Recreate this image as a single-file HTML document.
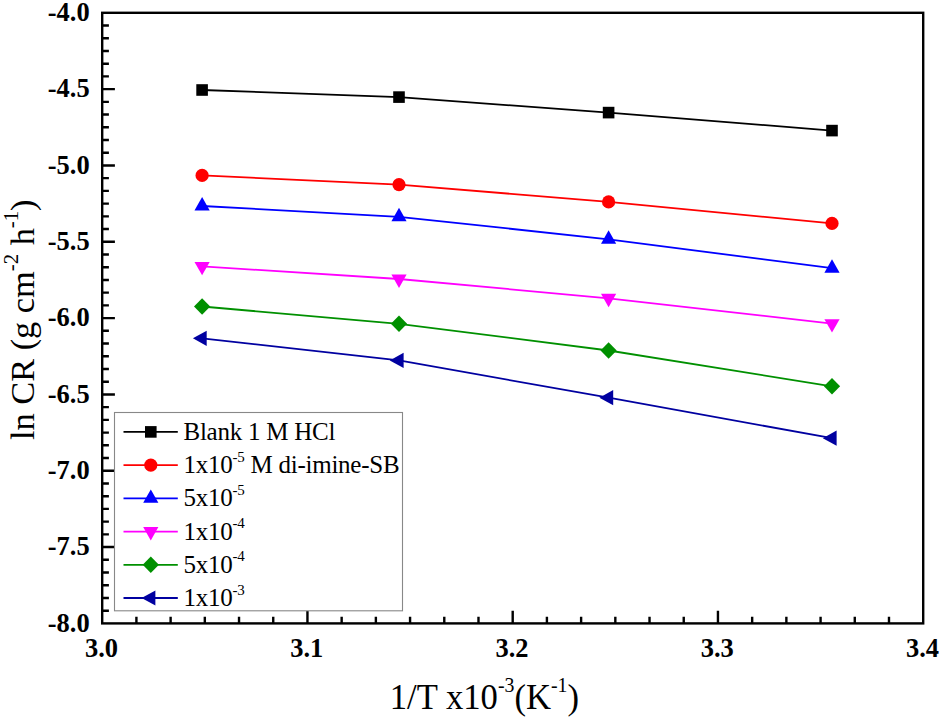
<!DOCTYPE html><html><head><meta charset="utf-8"><style>html,body{margin:0;padding:0;background:#fff;}svg{display:block;}text{font-family:"Liberation Serif",serif;}</style></head><body>
<svg width="944" height="719" viewBox="0 0 944 719">
<rect width="944" height="719" fill="#fff"/>
<path d="M102.20,25.52h6.7 M102.20,38.24h6.7 M102.20,50.96h6.7 M102.20,63.68h6.7 M102.20,76.40h6.7 M102.20,89.12h12.7 M102.20,101.85h6.7 M102.20,114.57h6.7 M102.20,127.29h6.7 M102.20,140.01h6.7 M102.20,152.73h6.7 M102.20,165.45h12.7 M102.20,178.17h6.7 M102.20,190.89h6.7 M102.20,203.61h6.7 M102.20,216.33h6.7 M102.20,229.05h6.7 M102.20,241.78h12.7 M102.20,254.50h6.7 M102.20,267.22h6.7 M102.20,279.94h6.7 M102.20,292.66h6.7 M102.20,305.38h6.7 M102.20,318.10h12.7 M102.20,330.82h6.7 M102.20,343.54h6.7 M102.20,356.26h6.7 M102.20,368.98h6.7 M102.20,381.70h6.7 M102.20,394.43h12.7 M102.20,407.15h6.7 M102.20,419.87h6.7 M102.20,432.59h6.7 M102.20,445.31h6.7 M102.20,458.03h6.7 M102.20,470.75h12.7 M102.20,483.47h6.7 M102.20,496.19h6.7 M102.20,508.91h6.7 M102.20,521.63h6.7 M102.20,534.35h6.7 M102.20,547.07h12.7 M102.20,559.80h6.7 M102.20,572.52h6.7 M102.20,585.24h6.7 M102.20,597.96h6.7 M102.20,610.68h6.7 M136.41,623.40v-6.7 M170.62,623.40v-6.7 M204.82,623.40v-6.7 M239.03,623.40v-6.7 M273.24,623.40v-6.7 M307.45,623.40v-12.7 M341.66,623.40v-6.7 M375.87,623.40v-6.7 M410.07,623.40v-6.7 M444.28,623.40v-6.7 M478.49,623.40v-6.7 M512.70,623.40v-12.7 M546.91,623.40v-6.7 M581.12,623.40v-6.7 M615.33,623.40v-6.7 M649.53,623.40v-6.7 M683.74,623.40v-6.7 M717.95,623.40v-12.7 M752.16,623.40v-6.7 M786.37,623.40v-6.7 M820.58,623.40v-6.7 M854.78,623.40v-6.7 M888.99,623.40v-6.7" stroke="#000" stroke-width="2.4" fill="none"/>
<path d="M202.10,90.00 L399.00,97.10 L608.60,112.60 L832.00,130.60" stroke="#000000" stroke-width="1.8" fill="none" stroke-linejoin="round"/>
<path d="M202.10,175.40 L399.00,184.60 L608.60,201.90 L832.00,223.40" stroke="#ff0000" stroke-width="1.8" fill="none" stroke-linejoin="round"/>
<path d="M202.10,206.00 L399.00,216.80 L608.60,239.30 L832.00,268.20" stroke="#0000ff" stroke-width="1.8" fill="none" stroke-linejoin="round"/>
<path d="M202.10,266.40 L399.00,279.00 L608.60,298.30 L832.00,323.60" stroke="#ff00ff" stroke-width="1.8" fill="none" stroke-linejoin="round"/>
<path d="M202.10,306.50 L399.00,323.80 L608.60,350.50 L832.00,386.30" stroke="#009000" stroke-width="1.8" fill="none" stroke-linejoin="round"/>
<path d="M202.10,338.30 L399.00,360.40 L608.60,397.70 L832.00,438.20" stroke="#0000a0" stroke-width="1.8" fill="none" stroke-linejoin="round"/>
<rect x="196.30" y="84.20" width="11.6" height="11.6" fill="#000000"/>
<rect x="393.20" y="91.30" width="11.6" height="11.6" fill="#000000"/>
<rect x="602.80" y="106.80" width="11.6" height="11.6" fill="#000000"/>
<rect x="826.20" y="124.80" width="11.6" height="11.6" fill="#000000"/>
<circle cx="202.10" cy="175.40" r="6.6" fill="#ff0000"/>
<circle cx="399.00" cy="184.60" r="6.6" fill="#ff0000"/>
<circle cx="608.60" cy="201.90" r="6.6" fill="#ff0000"/>
<circle cx="832.00" cy="223.40" r="6.6" fill="#ff0000"/>
<polygon points="202.10,197.07 209.70,210.47 194.50,210.47" fill="#0000ff"/>
<polygon points="399.00,207.87 406.60,221.27 391.40,221.27" fill="#0000ff"/>
<polygon points="608.60,230.37 616.20,243.77 601.00,243.77" fill="#0000ff"/>
<polygon points="832.00,259.27 839.60,272.67 824.40,272.67" fill="#0000ff"/>
<polygon points="202.10,275.33 209.70,261.93 194.50,261.93" fill="#ff00ff"/>
<polygon points="399.00,287.93 406.60,274.53 391.40,274.53" fill="#ff00ff"/>
<polygon points="608.60,307.23 616.20,293.83 601.00,293.83" fill="#ff00ff"/>
<polygon points="832.00,332.53 839.60,319.13 824.40,319.13" fill="#ff00ff"/>
<polygon points="202.10,298.20 210.20,306.50 202.10,314.80 194.00,306.50" fill="#009000"/>
<polygon points="399.00,315.50 407.10,323.80 399.00,332.10 390.90,323.80" fill="#009000"/>
<polygon points="608.60,342.20 616.70,350.50 608.60,358.80 600.50,350.50" fill="#009000"/>
<polygon points="832.00,378.00 840.10,386.30 832.00,394.60 823.90,386.30" fill="#009000"/>
<polygon points="192.90,338.30 206.70,330.70 206.70,345.90" fill="#0000a0"/>
<polygon points="389.80,360.40 403.60,352.80 403.60,368.00" fill="#0000a0"/>
<polygon points="599.40,397.70 613.20,390.10 613.20,405.30" fill="#0000a0"/>
<polygon points="822.80,438.20 836.60,430.60 836.60,445.80" fill="#0000a0"/>
<rect x="102.2" y="12.8" width="821.00" height="610.60" fill="none" stroke="#000" stroke-width="2.4"/>
<rect x="114.5" y="412.5" width="288.0" height="198.30" fill="#fff" stroke="#888" stroke-width="1.1"/>
<path d="M123.5,431.90H177.8" stroke="#000000" stroke-width="1.8"/>
<rect x="145.00" y="426.10" width="11.6" height="11.6" fill="#000000"/>
<text x="183.5" y="439.90" font-size="25" letter-spacing="-0.25">Blank 1 M HCl</text>
<path d="M123.5,465.12H177.8" stroke="#ff0000" stroke-width="1.8"/>
<circle cx="150.80" cy="465.12" r="6.6" fill="#ff0000"/>
<text x="183.5" y="473.12" font-size="25" letter-spacing="-0.25">1x10<tspan dy="-11.5" font-size="15">-5</tspan><tspan dy="11.5"> M di-imine-SB</tspan></text>
<path d="M123.5,498.34H177.8" stroke="#0000ff" stroke-width="1.8"/>
<polygon points="150.80,489.41 158.40,502.81 143.20,502.81" fill="#0000ff"/>
<text x="183.5" y="506.34" font-size="25" letter-spacing="-0.25">5x10<tspan dy="-11.5" font-size="15">-5</tspan></text>
<path d="M123.5,531.56H177.8" stroke="#ff00ff" stroke-width="1.8"/>
<polygon points="150.80,540.49 158.40,527.09 143.20,527.09" fill="#ff00ff"/>
<text x="183.5" y="539.56" font-size="25" letter-spacing="-0.25">1x10<tspan dy="-11.5" font-size="15">-4</tspan></text>
<path d="M123.5,564.78H177.8" stroke="#009000" stroke-width="1.8"/>
<polygon points="150.80,556.48 158.90,564.78 150.80,573.08 142.70,564.78" fill="#009000"/>
<text x="183.5" y="572.78" font-size="25" letter-spacing="-0.25">5x10<tspan dy="-11.5" font-size="15">-4</tspan></text>
<path d="M123.5,598.00H177.8" stroke="#0000a0" stroke-width="1.8"/>
<polygon points="141.60,598.00 155.40,590.40 155.40,605.60" fill="#0000a0"/>
<text x="183.5" y="606.00" font-size="25" letter-spacing="-0.25">1x10<tspan dy="-11.5" font-size="15">-3</tspan></text>
<text transform="translate(89.6,21.10) scale(0.98,1)" font-size="27" font-weight="bold" text-anchor="end">-4.0</text>
<text transform="translate(89.6,97.42) scale(0.98,1)" font-size="27" font-weight="bold" text-anchor="end">-4.5</text>
<text transform="translate(89.6,173.75) scale(0.98,1)" font-size="27" font-weight="bold" text-anchor="end">-5.0</text>
<text transform="translate(89.6,250.08) scale(0.98,1)" font-size="27" font-weight="bold" text-anchor="end">-5.5</text>
<text transform="translate(89.6,326.40) scale(0.98,1)" font-size="27" font-weight="bold" text-anchor="end">-6.0</text>
<text transform="translate(89.6,402.73) scale(0.98,1)" font-size="27" font-weight="bold" text-anchor="end">-6.5</text>
<text transform="translate(89.6,479.05) scale(0.98,1)" font-size="27" font-weight="bold" text-anchor="end">-7.0</text>
<text transform="translate(89.6,555.37) scale(0.98,1)" font-size="27" font-weight="bold" text-anchor="end">-7.5</text>
<text transform="translate(89.6,631.70) scale(0.98,1)" font-size="27" font-weight="bold" text-anchor="end">-8.0</text>
<text transform="translate(101.50,656.5) scale(0.98,1)" font-size="27" font-weight="bold" text-anchor="middle">3.0</text>
<text transform="translate(306.75,656.5) scale(0.98,1)" font-size="27" font-weight="bold" text-anchor="middle">3.1</text>
<text transform="translate(512.00,656.5) scale(0.98,1)" font-size="27" font-weight="bold" text-anchor="middle">3.2</text>
<text transform="translate(717.25,656.5) scale(0.98,1)" font-size="27" font-weight="bold" text-anchor="middle">3.3</text>
<text transform="translate(922.50,656.5) scale(0.98,1)" font-size="27" font-weight="bold" text-anchor="middle">3.4</text>
<text transform="translate(389.8,709) scale(0.99,1)" font-size="35">1/T x10<tspan dy="-17" font-size="20">-3</tspan><tspan dy="17">(K</tspan><tspan dy="-17" font-size="20">-1</tspan><tspan dy="17">)</tspan></text>
<text transform="translate(34.2,319.7) rotate(-90) scale(1.04,1)" text-anchor="middle" font-size="33">ln CR (g cm<tspan dy="-16.5" font-size="20">-2</tspan><tspan dy="16.5"> h</tspan><tspan dy="-16.5" font-size="20">-1</tspan><tspan dy="16.5">)</tspan></text>
</svg></body></html>
